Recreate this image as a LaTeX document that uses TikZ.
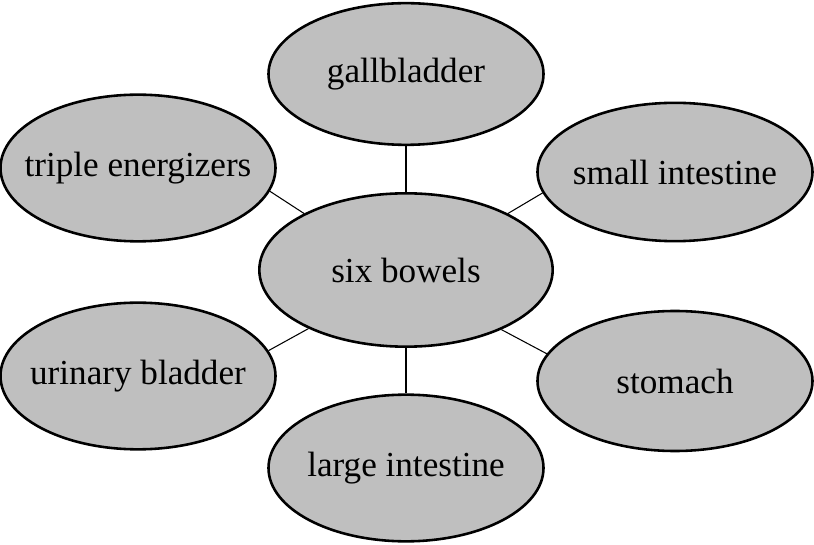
\documentclass[tikz,border=0pt]{standalone}
\usepackage{fontspec}
\setmainfont{Liberation Serif}
\usetikzlibrary{shapes.geometric}
\begin{document}
\begin{tikzpicture}[x=0.03cm,y=-0.03cm,
    organ/.style={ellipse,draw,line width=2.2pt,fill=black!25,inner xsep=-1.3cm,inner ysep=0pt,
      minimum width=8.25cm,minimum height=4.3cm,font=\fontsize{30}{36}\selectfont}]
      \useasboundingbox (0,0) rectangle (814,545);
      \draw
        (406,270) node[organ,minimum width=8.8cm,minimum height=4.6cm] (bowels){six bowels}
        (406,74) node[organ,minimum height=4.25cm] (gall){gallbladder}
        (138,168) node[organ,minimum height=4.4cm] (triple){triple energizers}
        (675,172) node[organ,minimum height=4.15cm] (small){small intestine}
        (138,376) node[organ,minimum height=4.4cm] (urinary){urinary bladder}
        (675,381) node[organ,minimum height=4.2cm] (stomach){stomach}
        (406,468) node[organ,minimum height=4.4cm] (large){large intestine};
      \begin{scope}[-,line width=0.9pt]
        \draw (gall.south) to (bowels.north);
        \draw (bowels.south) to (large.north);
        \draw (triple.-10) to (bowels.151);
        \draw (small.189) to (bowels.29);
        \draw (urinary.11) to (bowels.211);
        \draw (stomach.168) to (bowels.328);
      \end{scope}
    \end{tikzpicture}
\end{document}
